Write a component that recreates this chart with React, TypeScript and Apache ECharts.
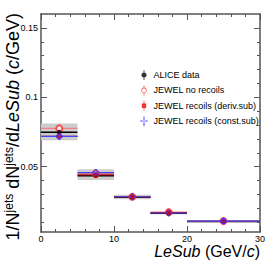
import React, { useEffect, useRef } from "react";
import * as echarts from "echarts";

// bins (GeV/c)
const binLow = [0, 5, 10, 15, 20];
const binHigh = [5, 10, 15, 20, 30];
const binCenter = [2.5, 7.5, 12.5, 17.5, 25];

const aliceValues = [0.0748, 0.0436, 0.0281, 0.0165, 0.0105];
const aliceSysLow = [0.069, 0.0405, 0.0265, 0.0158, 0.0100];
const aliceSysHigh = [0.0812, 0.0482, 0.0299, 0.0174, 0.0110];
const aliceStatErr = [0.0012, 0.0009, 0.0006, 0.0006, 0.0004];

const noRecoilValues = [0.0776, 0.0452, 0.0283, 0.0173, 0.0109];
const derivSubValues = [0.0718, 0.0442, 0.0282, 0.0169, 0.0107];
const constSubValues = [0.0718, 0.0458, 0.0284, 0.0167, 0.0109];

const xTicks = [0, 10, 20, 30];
const yMajorTicks = [0.05, 0.1, 0.15];
const yMinorTicks = [0.01, 0.02, 0.03, 0.04, 0.05, 0.06, 0.07, 0.08, 0.09, 0.1, 0.11, 0.12, 0.13, 0.14, 0.15];

const seriesNames = [
  "ALICE data",
  "JEWEL no recoils",
  "JEWEL recoils (deriv.sub)",
  "JEWEL recoils (const.sub)",
];

const FONT = "Liberation Sans, Arial, Helvetica, sans-serif";
const AXIS_COLOR = "#555555";
const CROSS = "path://M3.5 0H6.5V3.5H10V6.5H6.5V10H3.5V6.5H0V3.5H3.5Z";
const BAR = "M4.6 0H5.4V10H4.6Z ";
const ICON_ALICE = "path://" + BAR + "M5 2.4A2.6 2.6 0 1 1 4.999 2.4Z";
const ICON_NR =
  "path://M4.6 0H5.4V2.2H4.6Z M4.6 7.8H5.4V10H4.6Z M5 2.2A2.8 2.8 0 1 1 4.999 2.2Z M5 3.0A2.0 2.0 0 1 0 5.001 3.0Z";
const ICON_DERIV = "path://" + BAR + "M2.8 2.8H7.2V7.2H2.8Z";
const ICON_CONST =
  "path://M4.6 0H5.4V1.5H4.6Z M4.6 8.5H5.4V10H4.6Z M4.1 1.5H5.9V4.1H8.5V5.9H5.9V8.5H4.1V5.9H1.5V4.1H4.1Z M4.6 2.1V4.6H2.1V5.4H4.6V7.9H5.4V5.4H7.9V4.6H5.4V2.1Z";

function segData(values: number[]) {
  return values.map((v, i) => [binLow[i], binHigh[i], v]);
}

function segSeries(name: string, values: number[], color: string, width: number, z: number) {
  return {
    type: "custom",
    name: name + "_seg",
    z,
    data: segData(values),
    renderItem: (params: any, api: any) => {
      const p1 = api.coord([api.value(0), api.value(2)]);
      const p2 = api.coord([api.value(1), api.value(2)]);
      return {
        type: "line",
        shape: { x1: p1[0], y1: p1[1], x2: p2[0], y2: p2[1] },
        style: { stroke: color, lineWidth: width },
      };
    },
    silent: true,
  };
}

export default function App() {
  const ref = useRef<HTMLDivElement>(null);
  useEffect(() => {
    if (!ref.current) return;
    const chart = echarts.init(ref.current, undefined, { renderer: "svg" });

    const xAxisBase = (pos: string, showLabel: boolean) => ({
      type: "value",
      position: pos,
      min: 0,
      max: 30,
      interval: 10,
      axisLine: { show: true, onZero: false, lineStyle: { color: AXIS_COLOR, width: 1.5 } },
      axisTick: { show: true, inside: true, length: 6, lineStyle: { color: AXIS_COLOR, width: 1 } },
      minorTick: { show: true, splitNumber: 5, length: 3, lineStyle: { color: AXIS_COLOR, width: 1 } },
      axisLabel: {
        show: showLabel,
        fontSize: 9,
        color: "#000",
        fontFamily: FONT,
        margin: 2,
        formatter: (v: number) => (xTicks.includes(v) ? String(v) : ""),
      },
      splitLine: { show: false },
    });

    const yAxisBase = (pos: string, major: boolean, showLabel: boolean, showLine: boolean) => ({
      type: "value",
      position: pos,
      min: 0.003,
      max: 0.16,
      axisLine: { show: showLine, onZero: false, lineStyle: { color: AXIS_COLOR, width: 1.5 } },
      axisTick: {
        show: true,
        inside: true,
        length: major ? 6 : 3,
        customValues: major ? yMajorTicks : yMinorTicks,
        lineStyle: { color: AXIS_COLOR, width: 1 },
      },
      axisLabel: {
        show: showLabel,
        customValues: yMajorTicks,
        fontSize: 9,
        color: "#000",
        fontFamily: FONT,
        margin: 3,
        formatter: (v: number) => String(Math.round(v * 100) / 100),
      },
      splitLine: { show: false },
    });

    const option: any = {
      animation: false,
      backgroundColor: "#ffffff",
      textStyle: { fontFamily: FONT },
      grid: { left: 41, right: 14, top: 14, bottom: 42, containLabel: false },
      xAxis: [xAxisBase("bottom", true), xAxisBase("top", false)],
      yAxis: [
        yAxisBase("left", false, true, true),
        yAxisBase("left", true, false, false),
        yAxisBase("right", false, false, true),
        yAxisBase("right", true, false, false),
      ],
      legend: {
        orient: "vertical",
        left: 135.5,
        top: 65,
        itemWidth: 9,
        itemHeight: 10,
        itemGap: 5.4,
        textStyle: { fontSize: 9, color: "#000", fontFamily: FONT },
        data: [
          { name: seriesNames[0], icon: ICON_ALICE, itemStyle: { color: "#000" } },
          { name: seriesNames[1], icon: ICON_NR, itemStyle: { color: "#ff3333", borderWidth: 0 } },
          { name: seriesNames[2], icon: ICON_DERIV, itemStyle: { color: "#ee0000", borderWidth: 0 } },
          { name: seriesNames[3], icon: ICON_CONST, itemStyle: { color: "#3333ff", borderWidth: 0 } },
        ],
      },
      graphic: [
        {
          type: "text",
          x: 260,
          y: 251,
          style: {
            text: "{i|LeSub} (GeV/{i|c})",
            align: "right",
            verticalAlign: "middle",
            fontSize: 16,
            fontFamily: FONT,
            fill: "#000",
            rich: {
              i: { fontStyle: "italic", fontSize: 16, fontFamily: FONT, fill: "#000" },
            },
          },
        },
        {
          type: "text",
          x: 13,
          y: 13,
          rotation: Math.PI / 2,
          style: {
            text: "1/N{s|jets} dN{s|jets}/d{i|LeSub} ({i|c}/GeV)",
            align: "right",
            verticalAlign: "middle",
            fontSize: 18,
            lineHeight: 20,
            fontFamily: FONT,
            fill: "#000",
            rich: {
              s: { fontSize: 12, lineHeight: 12, verticalAlign: "top", fontFamily: FONT, fill: "#000" },
              i: { fontStyle: "italic", fontSize: 18, lineHeight: 20, fontFamily: FONT, fill: "#000" },
            },
          },
        },
      ],
      series: [
        {
          type: "custom",
          name: "sys",
          z: 1,
          silent: true,
          data: binLow.map((lo, i) => [lo, binHigh[i], aliceSysLow[i], aliceSysHigh[i]]),
          renderItem: (params: any, api: any) => {
            const p1 = api.coord([api.value(0), api.value(3)]);
            const p2 = api.coord([api.value(1), api.value(2)]);
            return {
              type: "rect",
              shape: { x: p1[0], y: p1[1], width: p2[0] - p1[0], height: p2[1] - p1[1] },
              style: { fill: "#cccccc" },
            };
          },
        },
        segSeries("nr", noRecoilValues, "#f47f7f", 1.2, 2),
        segSeries("alice", aliceValues, "#000000", 1.5, 3),
        segSeries("deriv", derivSubValues, "#b01010", 1.2, 4),
        segSeries("const", constSubValues, "#4444ff", 1.2, 5),
        {
          type: "custom",
          name: "stat",
          z: 6,
          silent: true,
          data: binCenter.map((c, i) => [c, aliceValues[i] - aliceStatErr[i], aliceValues[i] + aliceStatErr[i]]),
          renderItem: (params: any, api: any) => {
            const p1 = api.coord([api.value(0), api.value(1)]);
            const p2 = api.coord([api.value(0), api.value(2)]);
            return {
              type: "line",
              shape: { x1: p1[0], y1: p1[1], x2: p2[0], y2: p2[1] },
              style: { stroke: "#000", lineWidth: 1.5 },
            };
          },
        },
        {
          type: "scatter",
          name: seriesNames[1],
          z: 7,
          symbol: "emptyCircle",
          symbolSize: 6,
          itemStyle: { color: "#ff3333", borderColor: "#ff3333", borderWidth: 1 },
          data: binCenter.map((c, i) => [c, noRecoilValues[i]]),
        },
        {
          type: "scatter",
          name: seriesNames[0],
          z: 8,
          symbol: "circle",
          symbolSize: 5,
          itemStyle: { color: "#000" },
          data: binCenter.map((c, i) => [c, aliceValues[i]]),
        },
        {
          type: "scatter",
          name: seriesNames[2],
          z: 9,
          symbol: "circle",
          symbolSize: 6,
          itemStyle: { color: "#ee0000" },
          data: binCenter.map((c, i) => [c, derivSubValues[i]]),
        },
        {
          type: "scatter",
          name: seriesNames[3],
          z: 10,
          symbol: CROSS,
          symbolSize: 6,
          itemStyle: { color: "rgba(0,0,0,0)", borderColor: "#3333ff", borderWidth: 1 },
          data: binCenter.map((c, i) => [c, constSubValues[i]]),
        },
      ],
    };
    chart.setOption(option);
    return () => chart.dispose();
  }, []);
  return <div ref={ref} style={{ width: 274, height: 274, position: "absolute", left: 0, top: 0 }} />;
}
